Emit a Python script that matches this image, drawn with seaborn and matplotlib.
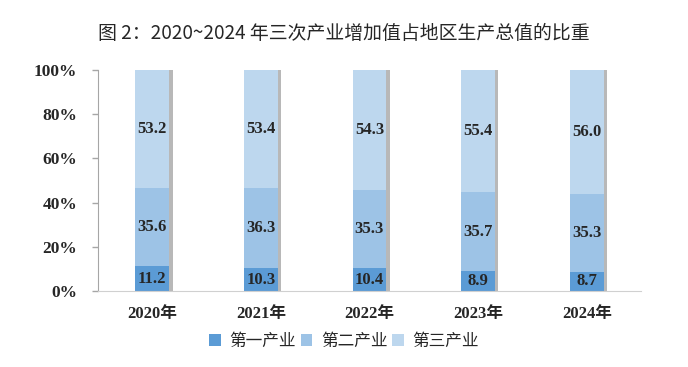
import matplotlib
matplotlib.use("Agg")
import matplotlib.patheffects as pe
import matplotlib.pyplot as plt
import seaborn as sns

years = ["2020年", "2021年", "2022年", "2023年", "2024年"]
primary = [11.2, 10.3, 10.4, 8.9, 8.7]
secondary = [35.6, 36.3, 35.3, 35.7, 35.3]
tertiary = [53.2, 53.4, 54.3, 55.4, 56.0]
series_names = ["第一产业", "第二产业", "第三产业"]
y_ticks = [0, 20, 40, 60, 80, 100]

colors = ["#5b9bd5", "#9dc3e6", "#bdd7ee"]
serif = ["Liberation Serif", "Noto Sans CJK SC"]

sns.set_style("white")
plt.rcParams["font.family"] = serif

fig = plt.figure(figsize=(6.88, 3.67), dpi=100)
ax = fig.add_axes([0.1424, 0.207, 0.7893, 0.602])

shadow = [pe.SimplePatchShadow(offset=(2.5, 0), shadow_rgbFace="#7f7f7f", alpha=0.55), pe.Normal()]

bottom = [0.0] * len(years)
for name, vals, color in zip(series_names, [primary, secondary, tertiary], colors):
    sns.barplot(x=years, y=vals, bottom=bottom, color=color, width=0.31,
                label=name, ax=ax, saturation=1, linewidth=0)
    bottom = [b + v for b, v in zip(bottom, vals)]

for bar in ax.patches:
    bar.set_path_effects(shadow)

for container in ax.containers:
    labels = [f"{v:.1f}" for v in container.datavalues]
    ax.bar_label(container, labels=labels, label_type="center",
                 fontsize=12, fontweight="bold", family=serif)

ax.set_ylim(0, 100)
ax.set_xlim(-0.5, len(years) - 0.5)
ax.set_yticks(y_ticks)
ax.set_yticklabels([f"{t}%" for t in y_ticks], fontsize=12.5, fontweight="bold")
ax.set_xticks(range(len(years)))
ax.set_xticklabels(years, fontsize=12, fontweight="bold")
ax.tick_params(axis="y", length=4, color="#a6a6a6", width=1, pad=11, direction="out", left=True)
ax.tick_params(axis="x", length=0, pad=11)
for side in ["top", "right"]:
    ax.spines[side].set_visible(False)
ax.spines["left"].set_color("#a6a6a6")
ax.spines["bottom"].set_color("#d0d0d0")
ax.set_xlabel("")
ax.set_ylabel("")

handles, lbls = ax.get_legend_handles_labels()
if ax.get_legend():
    ax.get_legend().remove()
leg = fig.legend(handles, lbls, loc="center", bbox_to_anchor=(0.5, 0.07), ncol=3, frameon=False,
                 handlelength=0.7, handleheight=0.7, handletextpad=0.5, columnspacing=0.3,
                 prop={"family": ["Noto Sans CJK SC"], "size": 12})
for h in leg.legend_handles:
    h.set_path_effects([])

fig.text(0.5, 0.91, "图 2：2020~2024 年三次产业增加值占地区生产总值的比重",
         ha="center", va="center", fontsize=13.6, family=["Noto Sans CJK SC"])

fig.savefig("out.png", dpi=100)
